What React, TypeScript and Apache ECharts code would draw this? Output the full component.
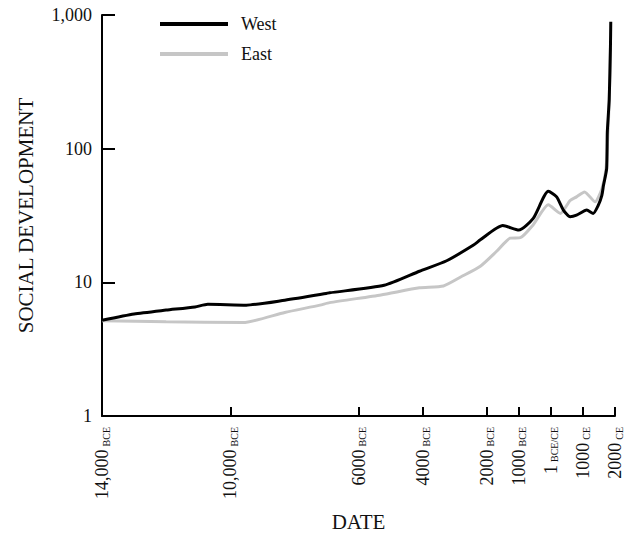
import React, { useEffect, useRef } from "react";
import * as echarts from "echarts";

const westYears = [-14000, -13000, -12000, -11100, -10700, -9500, -8300, -7200, -6900, -5200, -4100, -3250, -2400, -2200, -1500, -1000, -550, -80, 180, 390, 600, 800, 1120, 1320, 1480, 1590, 1640, 1740, 1760, 1820, 1858, 1868];
const westValues = [5.2, 5.8, 6.2, 6.55, 6.85, 6.75, 7.35, 8.1, 8.35, 9.5, 12.1, 14.5, 19.1, 20.8, 26.6, 24.6, 30.1, 48, 43.6, 34.7, 31, 31.8, 34.7, 32.8, 37.8, 44.8, 53, 71, 133, 234, 580, 890];

const eastYears = [-14000, -12000, -9600, -8300, -7200, -6900, -5300, -4100, -3350, -2800, -2200, -1700, -1270, -950, -550, -80, 300, 600, 800, 1050, 1380, 1590, 1720, 1780, 1820, 1858];
const eastValues = [5.15, 5.07, 5.0, 5.95, 6.75, 7.05, 8.05, 9.1, 9.4, 11, 13.2, 17, 21.4, 21.6, 27, 38, 32.8, 41, 43.6, 47.5, 40, 50, 71, 133, 230, 565];

const xTickValues = [-14000, -10000, -6000, -4000, -2000, -1000, 0, 1000, 2000];
const xTickNumbers = ["14,000", "10,000", "6000", "4000", "2000", "1000", "1", "1000", "2000"];
const xTickEras = ["BCE", "BCE", "BCE", "BCE", "BCE", "BCE", "BCE/CE", "CE", "CE"];

const yTickLabels: Record<number, string> = { 1: "1", 10: "10", 100: "100", 1000: "1,000" };

const seriesNames = ["West", "East"];
const FONT = '"Liberation Serif", "Times New Roman", serif';

export default function App() {
  const ref = useRef<HTMLDivElement>(null);
  useEffect(() => {
    if (!ref.current) return;
    const chart = echarts.init(ref.current, null, { renderer: "svg" });
    const west = westYears.map((y, i) => [y, westValues[i]]);
    const east = eastYears.map((y, i) => [y, eastValues[i]]);
    chart.setOption({
      animation: false,
      backgroundColor: "#fff",
      textStyle: { fontFamily: FONT },
      grid: { left: 102, top: 15, width: 513, height: 404, containLabel: false },
      legend: {
        data: seriesNames,
        orient: "vertical",
        left: 155,
        top: 10,
        icon: "rect",
        itemWidth: 68,
        itemHeight: 4,
        itemGap: 12,
        textStyle: { fontSize: 18, color: "#111", fontFamily: FONT, padding: [0, 0, 0, 8] },
      },
      xAxis: {
        type: "value",
        min: -14000,
        max: 2000,
        name: "DATE",
        nameLocation: "middle",
        nameGap: 95,
        nameTextStyle: { fontSize: 21, color: "#111", fontFamily: FONT },
        splitLine: { show: false },
        axisLine: { onZero: false, lineStyle: { color: "#000", width: 2 } },
        axisTick: {
          inside: true,
          length: 9,
          lineStyle: { color: "#000", width: 2 },
          customValues: xTickValues,
        },
        axisLabel: {
          customValues: xTickValues,
          rotate: 90,
          margin: 11,
          color: "#111",
          fontFamily: FONT,
          formatter: (v: number) => {
            const i = xTickValues.indexOf(v);
            if (i < 0) return "";
            return `{n|${xTickNumbers[i]}} {s|${xTickEras[i]}}`;
          },
          rich: {
            n: { fontSize: 18, fontFamily: FONT, color: "#111" },
            s: { fontSize: 10, fontFamily: FONT, color: "#111", verticalAlign: "bottom" },
          },
        },
      },
      yAxis: {
        type: "log",
        logBase: 10,
        min: 1,
        max: 1000,
        name: "SOCIAL DEVELOPMENT",
        nameLocation: "middle",
        nameGap: 66,
        nameTextStyle: { fontSize: 21, color: "#111", fontFamily: FONT },
        splitLine: { show: false },
        axisLine: { onZero: false, lineStyle: { color: "#000", width: 2 } },
        axisTick: { inside: true, length: 13, lineStyle: { color: "#000", width: 2 } },
        axisLabel: {
          margin: 10,
          fontSize: 18,
          color: "#111",
          fontFamily: FONT,
          formatter: (v: number) => yTickLabels[Math.round(v)] ?? "",
        },
      },
      series: [
        {
          name: "East",
          type: "line",
          data: east,
          symbol: "none",
          showSymbol: false,
          smooth: 0.2,
          lineStyle: { color: "#c6c6c6", width: 3 },
          itemStyle: { color: "#c6c6c6" },
          z: 2,
        },
        {
          name: "West",
          type: "line",
          data: west,
          symbol: "none",
          showSymbol: false,
          smooth: 0.2,
          lineStyle: { color: "#000", width: 3 },
          itemStyle: { color: "#000" },
          z: 3,
        },
      ],
    });
    return () => chart.dispose();
  }, []);
  return <div ref={ref} style={{ position: "absolute", left: 0, top: 0, width: 626, height: 537 }} />;
}
